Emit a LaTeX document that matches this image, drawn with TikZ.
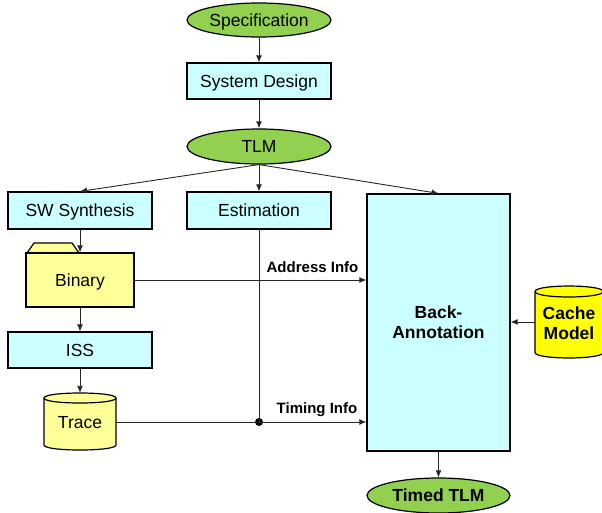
\documentclass[tikz,border=0pt]{standalone}
\usepackage{fontspec}
\setmainfont{Liberation Sans}
\usetikzlibrary{shapes.geometric,arrows.meta}
\definecolor{boxcyan}{HTML}{CCFFFF}
\definecolor{ovalgreen}{HTML}{92D050}
\definecolor{paleyellow}{HTML}{FFFF99}
\definecolor{brightyellow}{HTML}{FFFF00}
\begin{document}
\begin{tikzpicture}[x=1pt,y=-1pt,
  txt/.style={font=\fontsize{17.5}{20}\selectfont, text height=15.8pt, text depth=3.7pt},
  box/.style={draw=black, fill=boxcyan, line width=1.2pt, rectangle, inner sep=0pt,
    minimum width=144pt, minimum height=36pt, txt},
  oval/.style={draw=black, fill=ovalgreen, ellipse, line width=1.2pt, inner sep=0pt,
    minimum width=144pt, minimum height=34pt, txt},
  conn/.style={line width=0.9pt, draw=black!85, -{Latex[length=7pt,width=6pt]}},
  plain/.style={line width=0.9pt, draw=black!85},
  lbl/.style={font=\bfseries\fontsize{15}{18}\selectfont, inner sep=0pt, text height=13.6pt, text depth=3.2pt},
  cyl/.style={fill=#1, draw=black, line width=1.2pt},
  bigbold/.style={font=\bfseries\fontsize{17.5}{20}\selectfont, align=center}
]
\useasboundingbox (0,0) rectangle (602,512);

\node[oval] (spec) at (259,20) {Specification};
\node[box] (sysd) at (259,81) {System Design};
\node[oval, minimum height=35pt] (tlm) at (259,146.5) {TLM};
\node[box, minimum height=37pt] (sws) at (80,210.5) {SW Synthesis};
\node[box, minimum height=37pt] (est) at (259,210.5) {Estimation};

% Binary folder
\draw[fill=paleyellow, line width=1.2pt] (27,253) -- (34,243) -- (72,243) -- (79,253) -- cycle;
\node[draw=black, fill=paleyellow, line width=1.2pt, minimum width=108pt, minimum height=54pt,
  inner sep=0pt, txt] (bin) at (80,280) {Binary};

\node[box] (iss) at (80,350) {ISS};

% Trace cylinder
\path[cyl=paleyellow] (44,398) -- (44,445) .. controls (44,451.67) and (116,451.67) .. (116,445)
  -- (116,398) .. controls (116,391.33) and (44,391.33) .. (44,398) -- cycle;
\draw[line width=1.2pt] (44,398) .. controls (44,404.67) and (116,404.67) .. (116,398);
\node[minimum width=72pt, minimum height=58pt, inner sep=0pt, txt] (trace) at (80,422) {Trace};

% Back-Annotation
\node[box, minimum width=143pt, minimum height=257pt, text height=, text depth=, bigbold] (ba) at (438.5,322.5) {Back-\\Annotation};

% Cache Model cylinder
\path[cyl=brightyellow] (535,291.5) -- (535,352.5) .. controls (535,359.8) and (603,359.8) .. (603,352.5)
  -- (603,291.5) .. controls (603,284.2) and (535,284.2) .. (535,291.5) -- cycle;
\draw[line width=1.2pt] (535,291.5) .. controls (535,298.8) and (603,298.8) .. (603,291.5);
\node[minimum width=68pt, minimum height=72pt, inner sep=0pt, bigbold] (cache) at (569,323) {Cache\\Model};

\node[oval, minimum width=143pt, minimum height=35pt, font=\bfseries\fontsize{17.5}{20}\selectfont] (ttlm) at (438.5,495.5) {Timed TLM};

% connectors
\draw[conn] (spec) -- (sysd);
\draw[conn] (sysd) -- (tlm);
\draw[conn] (tlm.south) -- (sws.north);
\draw[conn] (tlm.south) -- (est.north);
\draw[conn] (tlm.south) -- (ba.north);
\draw[conn] (sws.south) -- (bin.north);
\draw[conn] (bin.south) -- (iss.north);
\draw[conn] (iss.south) -- (trace.north);

\node[circle, fill=black, inner sep=0pt, minimum size=8pt] (dot) at (est.south |- trace.east) {};
\draw[plain] (est.south) -- (dot.center);
\draw[plain] (trace.east) -- (dot.center);
\draw[conn] (dot.center) -- (dot -| ba.west);
\draw[conn] (bin.east) -- (bin.east -| ba.west);
\draw[conn] (cache.west |- 322,322) -- (ba.east |- 322,322);
\draw[conn] (ba.south) -- (ttlm.north);

\node[lbl] (addr) at (312.5,267) {Address Info};
\node[lbl] (timing) at (317,408) {Timing Info};
\end{tikzpicture}
\end{document}
